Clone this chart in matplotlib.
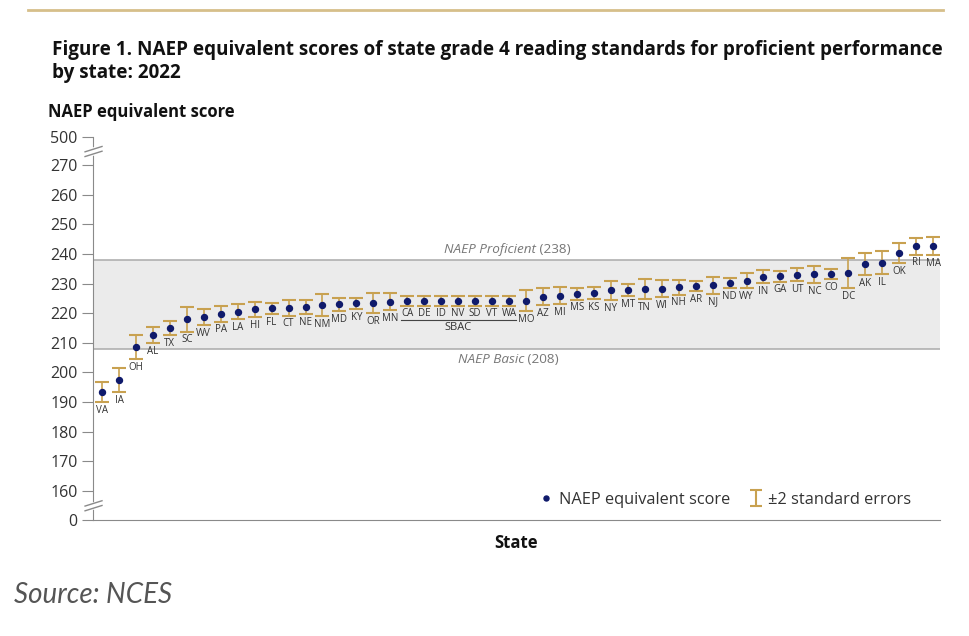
import matplotlib
matplotlib.use("Agg")
import matplotlib.pyplot as plt
from matplotlib.lines import Line2D
from matplotlib.path import Path

plt.rcParams['font.family'] = ['Open Sans', 'DejaVu Sans']

states = ['VA', 'IA', 'OH', 'AL', 'TX', 'SC', 'WV', 'PA', 'LA', 'HI',
          'FL', 'CT', 'NE', 'NM', 'MD', 'KY', 'OR', 'MN', 'CA', 'DE',
          'ID', 'NV', 'SD', 'VT', 'WA', 'MO', 'AZ', 'MI', 'MS', 'KS',
          'NY', 'MT', 'TN', 'WI', 'NH', 'AR', 'NJ', 'ND', 'WY', 'IN',
          'GA', 'UT', 'NC', 'CO', 'DC', 'AK', 'IL', 'OK', 'RI', 'MA']
scores = [193.4, 197.4, 208.7, 212.7, 214.9, 217.9, 218.7, 219.9, 220.5, 221.3,
          221.6, 221.8, 222.0, 222.7, 223.0, 223.3, 223.5, 223.9, 224.2, 224.2,
          224.2, 224.2, 224.2, 224.2, 224.2, 224.3, 225.6, 225.9, 226.5, 226.8,
          227.7, 227.9, 228.1, 228.3, 228.7, 229.2, 229.4, 230.2, 231.0, 232.4,
          232.5, 233.0, 233.1, 233.2, 233.5, 236.6, 237.1, 240.3, 242.6, 242.6]
std_err = [1.7, 2.05, 2.05, 1.35, 1.2, 2.05, 1.4, 1.35, 1.3, 1.25,
           1.0, 1.3, 1.2, 1.9, 1.1, 1.0, 1.7, 1.4, 0.8, 0.8,
           0.8, 0.8, 0.8, 0.8, 0.8, 1.75, 1.4, 1.45, 0.95, 1.0,
           1.65, 1.0, 1.7, 1.45, 1.2, 0.85, 1.4, 0.8, 1.25, 1.05,
           0.9, 1.1, 1.4, 0.9, 2.5, 1.9, 2.0, 1.7, 1.4, 1.5]
sbac = ['CA', 'DE', 'ID', 'NV', 'SD', 'VT', 'WA']
basic, proficient = 208, 238

# axis break: 0 and 500 are drawn at fake positions
y_zero, y_top = 150.2, 279.5
yticks = [y_zero] + list(range(160, 280, 10)) + [y_top]
ylabels = ['0'] + [str(v) for v in range(160, 280, 10)] + ['500']

navy = '#0f1a6b'
gold = '#c8a150'
grey = '#8a8a8a'
txt = '#333333'

fig = plt.figure(figsize=(9.7, 6.36), dpi=100)
ax = fig.add_axes([0.0959, 0.1824, 0.8732, 0.6022])

x = list(range(len(states)))
err = [2 * s for s in std_err]

ax.axhspan(basic, proficient, color='#ebebeb', zorder=0, lw=0)
ax.axhline(basic, color='#b0b0b0', lw=1.2, zorder=1)
ax.axhline(proficient, color='#b0b0b0', lw=1.2, zorder=1)

ax.errorbar(x, scores, yerr=err, fmt='none', ecolor=gold, elinewidth=1.2,
            capsize=4.8, capthick=1.5, zorder=2)
ax.plot(x, scores, 'o', color=navy, markersize=4.3, zorder=3)

for xi, s, e, name in zip(x, scores, err, states):
    ax.annotate(name, (xi, s - e), xytext=(0, -2), textcoords='offset points',
                ha='center', va='top', fontsize=7, color=txt)

# SBAC group
idx = [states.index(s) for s in sbac]
low = min(scores[i] - err[i] for i in idx)
sb_y = low - 5.0
ax.plot([idx[0] - 0.35, idx[-1] + 0.4], [sb_y, sb_y], color='#444444', lw=0.8)
ax.text((idx[0] + idx[-1]) / 2, sb_y - 0.7, 'SBAC', ha='center', va='top',
        fontsize=8, color=txt)

# band labels
ax.text(25.6, proficient + 1.2, 'NAEP Proficient', ha='right', va='bottom',
        fontsize=9.7, style='italic', color='#777777')
ax.text(25.6, proficient + 1.2, ' (238)', ha='left', va='bottom',
        fontsize=9.7, color='#777777')
ax.text(24.9, basic - 1.3, 'NAEP Basic', ha='right', va='top',
        fontsize=9.7, style='italic', color='#777777')
ax.text(24.9, basic - 1.3, ' (208)', ha='left', va='top',
        fontsize=9.7, color='#777777')

ax.set_xlim(-0.53, 49.41)
ax.set_ylim(y_zero, y_top)
ax.set_yticks(yticks)
ax.set_yticklabels(ylabels)
ax.set_xticks([])
for side in ['top', 'right']:
    ax.spines[side].set_visible(False)
ax.spines['left'].set_color(grey)
ax.spines['bottom'].set_color(grey)
ax.tick_params(axis='y', length=8, color=grey, labelsize=11.5, labelcolor=txt, pad=3)

# break marks on the y axis
for yb in [274.6, 155.0]:
    ax.plot([-0.5, -0.5], [yb - 0.4, yb + 0.4], color='white', lw=4,
            clip_on=False, zorder=4)
    for dy in [-0.8, 0.8]:
        ax.plot([-1.0, 0.0], [yb + dy - 0.9, yb + dy + 0.9], color=grey, lw=1,
                clip_on=False, zorder=5)

ax.set_xlabel('State', fontsize=12, fontweight='bold', color='#111111', labelpad=10)

# legend
bar_marker = Path([(0, -1), (0, 1), (-0.7, -1), (0.7, -1), (-0.7, 1), (0.7, 1)],
                  [Path.MOVETO, Path.LINETO, Path.MOVETO, Path.LINETO,
                   Path.MOVETO, Path.LINETO])
handles = [Line2D([], [], ls='', marker='o', color=navy, markersize=3.6),
           Line2D([], [], ls='', marker=bar_marker, markeredgecolor=gold,
                  markerfacecolor='none', markersize=12, markeredgewidth=1.5)]
ax.legend(handles, ['NAEP equivalent score', '\u00b12 standard errors'],
          ncol=2, frameon=False, loc='center', bbox_to_anchor=(0.746, 0.052),
          fontsize=11.8, handletextpad=0.25, columnspacing=1.1, handlelength=1.0,
          labelcolor=txt)

# header and footer
fig.add_artist(Line2D([28 / 970, 943 / 970], [1 - 10 / 636, 1 - 10 / 636],
                      color='#d6bf8a', lw=2))
fig.text(52 / 970, 1 - 50 / 636,
         'Figure 1. NAEP equivalent scores of state grade 4 reading standards for proficient performance',
         fontsize=13.55, fontweight='bold', va='center', color='#111111')
fig.text(52 / 970, 1 - 73 / 636, 'by state: 2022', fontsize=13.55,
         fontweight='bold', va='center', color='#111111')
fig.text(48 / 970, 1 - 112 / 636, 'NAEP equivalent score', fontsize=12,
         fontweight='bold', va='center', color='#111111')
fig.text(14 / 970, 1 - 595 / 636, 'Source: NCES', fontsize=20,
         style='italic', va='center', color='#555555', family=['Lato', 'DejaVu Sans'])

fig.savefig('out.png', dpi=100)
